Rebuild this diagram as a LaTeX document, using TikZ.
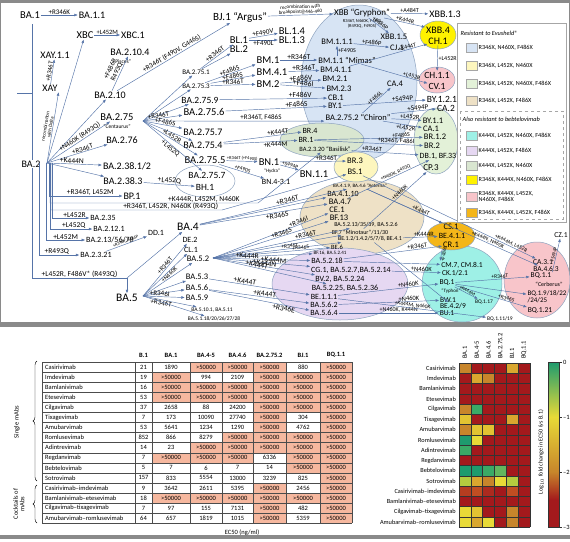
\documentclass[tikz,border=0pt]{standalone}
\usepackage{fontspec}
\setmainfont{Carlito}
\usetikzlibrary{arrows.meta,decorations.pathreplacing}
\tikzset{>={Latex[width=2.8pt,length=3.5pt]}}

\newcommand\fsz[1]{\fontsize{#1}{#1}\selectfont}

\definecolor{linec}{HTML}{5674A8}
\definecolor{grpline}{HTML}{8EA3BF}
\definecolor{framec}{HTML}{8A8A8A}
\definecolor{cBlue}{HTML}{D7E4F4}
\definecolor{cLYel}{HTML}{FDF6BE}
\definecolor{cLGrn}{HTML}{E3F1D8}
\definecolor{cTan}{HTML}{EEE1C6}
\definecolor{cCyan}{HTML}{9EF0E6}
\definecolor{cLav}{HTML}{E6D8F2}
\definecolor{cGGrn}{HTML}{D9E6D0}
\definecolor{cYel}{HTML}{FFF200}
\definecolor{cPink}{HTML}{F8C5CA}
\definecolor{cOrg}{HTML}{F4B619}
\definecolor{salmon}{HTML}{F6B89F}
% heatmap palette
\definecolor{hR}{HTML}{A3191C}
\definecolor{hRd}{HTML}{AC2A1F}
\definecolor{hRO}{HTML}{B63D20}
\definecolor{hRO2}{HTML}{C04E22}
\definecolor{hO}{HTML}{C7852B}
\definecolor{hOY}{HTML}{D9A72F}
\definecolor{hY2}{HTML}{E2C332}
\definecolor{hY}{HTML}{E8DA37}
\definecolor{hYG}{HTML}{B4CC3F}
\definecolor{hLG}{HTML}{62B65E}
\definecolor{hG}{HTML}{3AAA66}
\definecolor{hTG}{HTML}{1E9B6E}

\tikzset{
  lin/.style={font=\fsz{#1},inner sep=0.8pt},
  lin/.default=9,
  mut/.style={font=\fsz{#1},inner sep=0.5pt,sloped,above},
  mut/.default=7,
  arr/.style={draw=linec,line width=0.45pt,->},
  trunk/.style={draw=linec,line width=0.5pt},
  grp/.style={draw=grpline,line width=0.5pt},
  legtxt/.style={font=\fsz{6.2},inner sep=0.5pt,anchor=west,align=left},
  legtit/.style={font=\fsz{6.3}\itshape,inner sep=0.5pt,anchor=west},
  swatch/.style={draw=gray!70,minimum width=11pt,minimum height=9pt,inner sep=0pt},
  tabtxt/.style={font=\fsz{6.5},inner sep=0pt},
  tabhd/.style={font=\fsz{6.5}\bfseries,inner sep=0pt},
  tabline/.style={draw=black!70,line width=0.4pt},
  hmtxt/.style={font=\fsz{6.3},inner sep=0pt,anchor=east},
  hmgrid/.style={draw=black!80,line width=0.4pt},
}

\begin{document}
\begin{tikzpicture}[x=1pt,y=-1pt]
\useasboundingbox (0,0) rectangle (570,541);

% frames
\fill[framec] (0,0) rectangle (570,3);
\fill[framec] (0,322) rectangle (570,327);
\fill[framec] (0,535) rectangle (570,539);
\draw[framec,line width=1pt] (0.5,0) -- (0.5,324);
\draw[framec,line width=1pt] (569.5,0) -- (569.5,324);

% groups
\draw[grp,fill=cBlue] (359,83) ellipse [x radius=58pt,y radius=78pt];
\draw[grp,fill=cLGrn] (436,141) ellipse [x radius=22pt,y radius=33pt];
\draw[grp,fill=cYel] (438,35) ellipse [x radius=18pt,y radius=14pt];
\draw[grp,fill=cPink] (437,80) ellipse [x radius=18pt,y radius=13pt];
\draw[grp,fill=cGGrn] (322,140) ellipse [x radius=42pt,y radius=17pt];
\draw[grp,fill=white] (205,181) ellipse [x radius=30pt,y radius=16pt];
\draw[grp,fill=cTan] (362,217) ellipse [x radius=62pt,y radius=37pt];
\draw[grp,fill=cLYel] (356,167) ellipse [x radius=22pt,y radius=15pt];
\draw[grp,fill=cLav] (340,284) ellipse [x radius=68pt,y radius=36pt];
\draw[grp,fill=cCyan] (462,284) ellipse [x radius=40pt,y radius=38pt];
\draw[grp,fill=cOrg] (451,236) ellipse [x radius=24pt,y radius=14pt];
\draw[grp,fill=cPink] (537,280) ellipse [x radius=33pt,y radius=38pt];

% trunk
\coordinate (top) at (32,24);
\coordinate (root) at (17,93);
\coordinate (c45) at (127,278);
\draw[trunk] (root) -- (root -| top);
\draw[trunk] (top) |- node[mut=7.5,pos=.75]{+L452R, F486V* (R493Q)} (c45);

% BA.1, BA.2 and near
\node[lin=10.5] (ba1) at (30,15) {BA.1};
\node[lin=10] (ba11) at (92,15) {BA.1.1};
\node[lin=10.5] (xbc) at (85,35) {XBC};
\node[lin=10] (xbc1) at (133,35) {XBC.1};
\node[lin=10] (xay11) at (55,55) {XAY.1.1};
\node[lin=10] (xay) at (50,88) {XAY};
\node[lin=10,fill=white] (ba2) at (31,164) {BA.2};
\coordinate (h2) at (47,163);
\node[lin=10] (ba210) at (110,95) {BA.2.10};
\node[lin=10] (ba2104) at (130,52) {BA.2.10.4};
\node[lin=5.5] (pisces) at (122,62) {“Pisces”};
\node[lin=10.5] (ba275) at (117,117) {BA.2.75};
\node[lin=5.5] (centaurus) at (117,127) {“Centaurus”};
\coordinate (h275) at (143,121);
\node[lin=10] (ba276) at (122,140) {BA.2.76};
\node[lin=10] (ba2381) at (127,166) {BA.2.38.1/2};
\node[lin=10] (ba2383) at (123,181) {BA.2.38.3};
\node[lin=10] (bp1) at (132,196) {BP.1};
\node[lin=8] (ba235) at (103,218) {BA.2.35};
\node[lin=8] (ba2121) at (109,229) {BA.2.12.1};
\node[lin=8] (ba213) at (110,240) {BA.2.13/56/78};
\node[lin=8] (ba2321) at (96,255) {BA.2.3.21};
\node[lin=8] (dd1) at (156,233) {DD.1};
\node[lin=11.5] (ba4) at (188,227) {BA.4};
\node[lin=11.5] (ba5) at (127,298) {BA.5};

% BA.2.75 lineages
\node[lin=7] (ba2751) at (196,72) {BA.2.75.1};
\node[lin=7] (ba2753) at (196,86) {BA.2.75.3};
\node[lin=9.5] (ba2759) at (200,100) {BA.2.75.9};
\node[lin=10.5] (ba2756) at (204,112) {BA.2.75.6};
\node[lin=10] (ba2757a) at (203,132) {BA.2.75.7};
\node[lin=10] (ba2754) at (203,145) {BA.2.75.4};
\node[lin=10.5] (ba2755) at (205,160) {BA.2.75.5};
\node[lin=9.5] (ba2757b) at (207,175) {BA.2.75.7};
\node[lin=9.5] (bh1) at (205,187) {BH.1};
\node[lin=11] (bj1) at (240,17) {BJ.1 “Argus”};
\node[lin=10.5] (bl1) at (239,40) {BL.1};
\node[lin=10.5] (bl2) at (239,49) {BL.2};
\node[lin=10.5] (bl14) at (292,31) {BL.1.4};
\node[lin=10.5] (bl13) at (292,40) {BL.1.3};
\node[lin=10.5] (bm1) at (268,60) {BM.1};
\node[lin=10.5] (bm41) at (272,72) {BM.4.1};
\node[lin=10.5] (bm2) at (268,84) {BM.2};

% blue group
\node[lin=9] (xbb) at (362,13) {XBB “Gryphon”};
\node[lin=4.5,align=center] (xbbm) at (362,24) {R346T, N460K, F486S\\(R493Q, F490S)};
\node[lin=8.5] (bm111) at (337,42) {BM.1.1.1};
\node[lin=8.5] (bm11) at (347,60) {BM.1.1 “Mimas”};
\node[lin=8.5] (bm411) at (336,70) {BM.4.1.1};
\node[lin=8.5] (bm21) at (335,79) {BM.2.1};
\node[lin=8.5] (bm23) at (339,89) {BM.2.3};
\node[lin=8.5] (cb1) at (336,98) {CB.1};
\node[lin=8.5] (by1) at (335,106) {BY.1};
\node[lin=8.5] (chiron) at (358,117) {BA.2.75.2 “Chiron”};
\node[lin=8.5] (xbb15) at (394,37) {XBB.1.5};
\node[lin=8.5] (cj1) at (397,48) {CJ.1};
\node[lin=8.5] (ca4) at (395,84) {CA.4};

% right column
\node[lin=10] (xbb13) at (445,14) {XBB.1.3};
\node[lin=10] (xbb4) at (438,30) {XBB.4};
\node[lin=10] (ch1) at (438,41) {CH.1};
\node[lin=9.5] (ch11) at (437,75) {CH.1.1};
\node[lin=9.5] (cv1) at (437,86) {CV.1};
\node[lin=9.5] (by121) at (442,99) {BY.1.2.1};
\node[lin=9.5] (ca2) at (446,108) {CA.2};
\node[lin=8.5] (by11) at (433,121) {BY.1.1};
\node[lin=8.5] (ca1) at (431,129) {CA.1};
\node[lin=8.5] (br12) at (435,137) {BR.1.2};
\node[lin=8.5] (br2) at (432,146) {BR.2};
\node[lin=8] (db1) at (438,156) {DB.1, BF.33};
\node[lin=9] (cp3) at (431,168) {CP.3};

% basilisk, BN, BR.3
\node[lin=8] (br4) at (310,131) {BR.4};
\node[lin=8] (br1) at (306,140) {BR.1};
\node[lin=6.5] (basilisk) at (325,149) {BA.2.3.20 “Basilisk”};
\node[lin=10.5] (bn1) at (269,162) {BN.1};
\node[lin=5] (hydra) at (272,171) {“Hydra”};
\node[lin=10.5] (bn11) at (314,174) {BN.1.1};
\node[lin=8] (bn431) at (276,182) {BN.4-3.1};
\node[lin=8.5] (br3) at (355,161) {BR.3};
\node[lin=8.5] (bs1) at (355,172) {BS.1};

% tan group
\node[lin=5] (aeterna) at (360,186) {BA.4.1.9, BA.4.6 “Aeterna”};
\node[lin=8] (ba4110) at (343,194) {BA.4.1.10};
\node[lin=8.5] (ba47) at (340,202) {BA.4.7};
\node[lin=8.5] (ce1) at (337,210) {CE.1};
\node[lin=8.5] (bf13) at (339,218) {BF.13};
\node[lin=6] (ba5213) at (366,225) {BA.5.2.13/35/39, BA.5.2.6};
\node[lin=6] (bf7) at (360,232) {BF.7 “Minotaur”/11/30};
\node[lin=6] (be12) at (370,239) {BE.1.2/1.4.2/5/7/8, BE.4.1};
\node[lin=6.5] (be6) at (337,247) {BE.6};

% BA.5 lineages
\coordinate (hb5) at (143,296);
\node[lin=8] (de2) at (190,240) {DE.2};
\node[lin=8] (cl1) at (191,250) {CL.1};
\node[lin=8.5] (ba52) at (198,259) {BA.5.2};
\coordinate (hb52) at (213,258);
\node[lin=8.5] (ba53) at (197,277) {BA.5.3};
\node[lin=8.5] (ba56) at (197,288) {BA.5.6};
\node[lin=8.5] (ba59) at (197,298) {BA.5.9};
\node[lin=5.5] (ba5101) at (212,310) {BA.5.10.1, BA.5.11};
\node[lin=5.5] (ba51) at (214,319) {BA.5.1.18/20/26/27/28};

% lavender group
\node[lin=5] (bf16) at (330,253) {BF.16, BA.5.2.41};
\node[lin=8] (ba5218) at (327,261) {BA.5.2.18};
\node[lin=8] (cg1) at (351,270) {CG.1, BA.5.2.7,BA.5.2.14};
\node[lin=8] (bv2) at (340,279) {BV.2, BA.5.2.24};
\node[lin=8] (ba5225) at (345,288) {BA.5.2.25, BA.5.2.36};
\node[lin=8] (be111) at (324,297) {BE.1.1.1};
\node[lin=8] (ba562) at (324,305) {BA.5.6.2};
\node[lin=8] (ba564) at (324,313) {BA.5.6.4};

% orange, cyan, pink
\node[lin=8.5] (cs1) at (451,227) {CS.1};
\node[lin=8] (be411) at (452,236) {BE.4.1.1};
\node[lin=8.5] (cr1) at (451,245) {CR.1};
\node[lin=7.5] (cm7) at (462,265) {CM.7, CM.8.1};
\node[lin=7.5] (ck1) at (455,273) {CK.1/2.1};
\node[lin=7.5] (bq1) at (447,283) {BQ.1};
\node[lin=5] (typhon) at (451,291) {“Typhon”};
\node[lin=7.5] (bw1) at (448,300) {BW.1};
\node[lin=7.5] (be42) at (453,306) {BE.4.2/9};
\node[lin=7.5] (bu1) at (447,313) {BU.1};
\node[lin=5.5] (bq117) at (484,302) {BQ.1.17};
\node[lin=7.5] (ca31) at (543,262) {CA.3.1};
\node[lin=7.5] (ba463) at (546,269) {BA.4.6.3};
\node[lin=7.5] (bq11) at (541,276) {BQ.1.1};
\node[lin=6] (cerberus) at (549,284) {“Cerberus”};
\node[lin=7,align=left] (bq19) at (547,297) {BQ.1.9/18/22\\/24/25};
\node[lin=7.5] (bq121) at (540,311) {BQ.1.21};
\node[lin=7.5] (cz1) at (561,235) {CZ.1};
\node[lin=5.5] (bq111) at (500,319) {BQ.1.11/19};

% ---- connectors
\draw[arr] (ba1) -- node[mut=7]{+R346K} (ba11);
\draw[arr] (xbc) -- node[mut=6.5]{+L452M} (xbc1);
\draw[arr] (xay) -- node[mut=6.5]{+R346T} (xay11);
\draw[arr] (h2) -- (xbc);
\draw[arr] (h2) -- node[mut=5,align=center]{recombination\\with Delta} (xay.south east);
\draw[arr] (h2) -- (ba210);
\draw[arr] (h2) -- node[mut=7,pos=.55]{+N460K (R493Q)} (ba275);
\draw[arr] (h2) -- node[mut=7,pos=.6]{+R346T} (ba276);
\draw[arr] (h2) -- node[mut=7.5,pos=.45]{+K444N} (ba2381);
\draw[arr] (h2) -- (ba2383);
\coordinate (k1) at (258,203);
\coordinate (k2) at (222,210);
\draw[arr] ([xshift=2pt]h2) |- node[mut=7.5,pos=.78]{+R346T, L452M} (bp1);
\draw[arr] ([xshift=3pt]h2) |- node[mut=7.5,pos=.87]{+K444R, L452M, N460K} (k1) -- (basilisk);
\draw[arr] ([xshift=4pt]h2) |- node[mut=7.5,pos=.85]{+R346T, L452R, N460K (R493Q)} (k2) -- (bs1);
\draw[arr] ([xshift=5pt]h2) |- node[mut=7.5,pos=.8]{+L452R} (ba235);
\draw[arr] ([xshift=3pt]h2) |- node[mut=7.5,pos=.78]{+L452Q} (ba2121);
\draw[arr] ([xshift=-1pt]h2) |- node[mut=7.5,pos=.75]{+L452M} (ba213);
\draw[arr] ([xshift=-8pt]h2) |- node[mut=7.5,pos=.72]{+R493Q} (ba2321);
\draw[arr] (ba2321) -- node[mut=4.5]{+R346T, F486P} (dd1);

\draw[arr] (ba210) -- node[mut=7,align=center]{+F486P\\R493Q} (ba2104);
\draw[arr] (ba210) -- node[mut=7]{+R346T (F490V, G446S)} (bj1);
\draw[arr] (bj1) -- node[mut=5,align=center]{recombination with\\breakpoint@446-460} (xbb);

\draw[arr] (h275) -- (ba2751);
\draw[arr] (h275) -- (ba2753);
\draw[arr] (h275) -- (ba2759);
\draw[arr] (h275) -- node[mut=7,pos=.4]{+R346T} (ba2756);
\draw[arr] (h275) -- node[mut=7,pos=.55]{+F486S} (ba2757a);
\draw[arr] (h275) -- (ba2754);
\draw[arr] (h275) -- node[mut=7,pos=.5]{+L452R} (ba2755);
\draw[arr] (h275) -- node[mut=7,pos=.5,below]{+L452Q} (ba2757b);
\draw[arr] (h275) -- node[mut=7,pos=.65]{+R346T, F486S} (chiron.south west);
\draw[arr] (ba2383) -- node[mut=7.5]{+L452Q} (bh1);

\draw[arr] (ba2751) -- node[mut=7]{+R346T} (bl1);
\draw[arr] (ba2751) -- (bl2);
\draw[arr] (bl1) -- node[mut=7]{+F490V} (bl14);
\draw[arr] (bl1) -- node[mut=7,below]{+F490L} (bl13);
\draw[arr] (ba2753) -- node[mut=7]{+F486S} (bm1);
\draw[arr] (ba2753) -- node[mut=7]{+F486S} (bm41);
\draw[arr] (ba2753) -- node[mut=7]{+R346T} (bm2);
\draw[arr] (bm1) -- node[mut=7.5]{+R346T} (bm11);
\draw[arr] ([xshift=-10pt]bm11.north) -- node[font=\fsz{6},right,inner sep=1pt]{+F490S} (bm111);
\draw[arr] (bm41) -- node[mut=7.5]{+R346T} (bm411);
\draw[arr] (bm2) -- node[mut=7.5]{+F486V} (bm21);
\draw[arr] (bm2) -- node[mut=7.5]{+F486I} (bm23);
\draw[arr] (ba2759) -- node[mut=7.5,pos=.75]{+F486V} (cb1);
\draw[arr] (ba2756) -- node[mut=7.5,pos=.7]{+F486S} (by1);

\draw[arr] (bm111) -- node[mut=6.5]{+F486P} (cj1);
\draw[arr] (xbb) -- node[mut=6]{+F486P} (xbb15);
\draw[arr] (xbb) -- node[mut=6]{+A484T} (xbb13);
\draw[arr] (xbb) -- node[mut=6]{+K444R} (xbb4);
\draw[arr] (bm411) -- node[mut=6,pos=.75]{+K444T} (ch1);
\draw[arr] (ch1) -- node[font=\fsz{6},right,inner sep=1pt]{+L452R} (ch11);
\draw[arr] (bm11) -- node[mut=6,pos=.75]{+L452R} (cv1);
\draw[arr] (by1) -- node[mut=7,pos=.72]{+S494P} (by121);
\draw[arr] (chiron) -- node[mut=7,pos=.6]{+S494P} (ca2);
\draw[arr] (chiron) -- node[mut=6]{+F486L} (ca4);
\draw[arr] (chiron) -- node[mut=6.5,pos=.6]{+L452R} (by11);
\draw[arr] (chiron) -- node[mut=6.5,pos=.6,below]{+L452R} (ca1);
\draw[arr] (br1) -- node[mut=6,pos=.8]{+F486S} (br12);
\draw[arr] (br1) -- node[mut=6.5,pos=.75]{+R346T, F486I} (br2);
\draw[arr] (basilisk) -- node[mut=6.5,pos=.3]{+R346T} (db1);

\draw[arr] (ba2754) -- node[mut=7,pos=.7]{+K444T} (br4);
\draw[arr] (ba2754) -- node[mut=7,pos=.7,below]{+K444M} (br1);
\draw[arr] (ba2755) -- node[mut=4.5,pos=.5]{+R346T (+F490S)} (bn1);
\draw[arr] (ba2755) -- node[mut=5.5]{+F490S} (bn431);
\draw[arr] (bn1) -- node[mut=5.5]{+S494P} (bn11);
\draw[arr] (bn1) -- node[mut=7,pos=.7]{+R346T} (br3);

\draw[arr] (c45) -- (ba4);
\draw[arr] (c45) -- (ba5);
\draw[arr] (ba4) -- node[mut=7.5,pos=.6]{+R346T} (aeterna);
\draw[arr] (ba4) -- node[mut=7.5,pos=.6,below]{+R346S} (ba47);
\draw[arr] (ba4) -- (ba4110);

\draw[arr] (hb5) -- node[mut=6.5,pos=.55]{+R346T} (de2);
\draw[arr] (hb5) -- node[mut=6,pos=.55,below]{+N460K} (cl1);
\draw[arr] (hb5) -- (ba52);
\draw[arr] (hb5) -- (ba53);
\draw[arr] (hb5) -- (ba56);
\draw[arr] (hb5) -- node[mut=7,pos=.4]{+R346I} (ba59);
\draw[arr] (hb5) -- node[mut=7,pos=.35,below]{+R346T} (ba5101);
\draw[arr] (hb5) -- (ba51);

\draw[arr] (hb52) -- node[mut=7,pos=.75]{+R346I} (ce1);
\draw[arr] (hb52) -- node[mut=7,pos=.6]{+R346S} (bf13);
\draw[arr] (hb52) -- node[mut=7,pos=.68]{+R346T} (ba5213);
\draw[arr] (hb52) -- (bf7);
\draw[arr] (hb52) -- node[mut=5.5,pos=.6]{+R346T} (be12);
\draw[arr] (hb52) -- node[mut=5.5,pos=.75]{+R346S} (be6);
\draw[arr] (hb52) -- (bf16);
\draw[arr] (hb52) -- node[mut=7.5,pos=.35]{+K444R} (ba5218);
\draw[arr] (hb52) -- node[mut=7.5,pos=.62]{+K444M} (cg1);
\draw[arr] (hb52) -- node[mut=7.5,pos=.5]{+K444N} (bv2);
\draw[arr] (hb52) -- node[mut=7.5,pos=.38]{+K444T} (ba5225);
\draw[arr] (ba53) -- node[mut=7.5,pos=.35]{+K444T} (be111);
\draw[arr] (ba56) -- node[mut=7.5,pos=.55]{+K444T} (ba562);
\draw[arr] (ba56) -- node[mut=7.5,pos=.75,below]{+R346E} (ba564);

\draw[arr] (ba5218) -- (cm7);
\draw[arr] (cg1) -- node[mut=6.5,pos=.6]{+N460K} (ck1);
\draw[arr] (be111) -- node[mut=6.5,pos=.7]{+N460K} (bq1);
\draw[arr] (ba562) -- node[mut=6.5,pos=.7]{+N460K} (bw1);
\draw[arr] (ba564) -- node[mut=6,pos=.6]{+N460K, K444N} (bu1);
\draw[arr] (be12) -- (be42);
\draw[arr] (aeterna) -- node[mut=6,pos=.7]{+K444T} (cs1);
\draw[arr] (be12) -- node[mut=6.5,pos=.6]{+K444R} (be411);
\draw[arr] (ba5218) -- node[mut=6.5,pos=.75]{+R346T} (cr1);
\draw[arr] (cr1.south west) -- node[mut=5,pos=.4,below]{+F486S} (cm7.north west);
\draw[arr] (bs1) -- node[mut=5.5,pos=.85]{+K444M, L452R} (ca31);
\draw[arr] (aeterna) -- node[mut=5.5,pos=.7]{+K444N, N460K} (ba463);
\draw[arr] (bq1) -- node[mut=5.5,pos=.6]{+R346T} (bq11);
\draw[arr] (bq1) -- (bq19);
\draw[arr] (bq1) -- node[mut=5.5,pos=.7]{+R346S} (bq121);
\draw[arr] (bq1) -- node[mut=5,pos=.5]{+K444M} (bq117);
\draw[arr] (be111) -- node[mut=5.5,pos=.5]{+K444M, N460K} (bq111);
\draw[arr] (bq11.north east) -- node[mut=5,pos=.5]{+S494P} (cz1);
\draw[arr] (ba47) -- node[mut=5,pos=.6]{+N460K, R493Q} (db1);
\draw[arr] (bf7) -- node[mut=6,pos=.6]{+N460K} (cp3);

% legend
\draw[draw=gray!70,fill=white] (457,23) rectangle (566,222);
\node[legtit] (lgt1) at (460,33) {Resistant to Evusheld®};
\draw[draw=gray!70,dashed] (460,111) rectangle (563,219);
\node[legtit] (lgt2) at (462,119) {Also resistant to bebtelovimab};
\foreach \yy/\cc/\lbl [count=\i] in {48/cBlue/{R346X, N460X, F486X},
    66/cLYel/{R346X, L452X, N460X}, 84/cLGrn/{R346X, L452X, N460X, F486X},
    101/cTan/{R346X, L452X, F486X}, 136/cCyan/{K444X, L452X, N460X, F486X},
    151/cLav/{K444X, L452X, F486X}, 166/cGGrn/{K444X, L452X, N460X},
    180/cYel/{R346X, K444X, N460X, F486X},
    197/cPink/{R346X, K444X, L452X,\\N460X, F486X},
    213/cOrg/{R346X, K444X, L452X, F486X}}{
  \node[swatch,fill=\cc] (sw\i) at (471.5,\yy) {};
  \node[legtxt] (lg\i) at (478,\yy) {\lbl};
}

% ---- table
\foreach \xl/\xr/\rows in {152/190/{2,3,4,10,14}, 190/222/{1,3,4,9,10,14},
    222/253/{1,3,4,8,9,10,14}, 253/286/{1,2,3,4,5,6,7,8,9,13,14,15,16},
    286/320/{2,3,4,5,8,9,10,11,14}, 320/352/{1,2,...,16}}
  \foreach \r in \rows
    \fill[salmon] (\xl,{362+(\r-1)*10.08}) rectangle (\xr,{362+\r*10.08});
\foreach \i in {0,...,16}
  \draw[tabline] (42,{362+\i*10.08}) -- (352,{362+\i*10.08});
\foreach \xx in {42,135,152,190,222,253,286,320,352}
  \draw[tabline] (\xx,362) -- (\xx,523.28);
\foreach \xx/\hd [count=\i] in {143.5/B.1,171/BA.1,206/BA.4-5,237.5/BA.4.6,269.5/BA.2.75.2,303/BJ.1,336/BQ.1.1}
  \node[tabhd] (th\i) at (\xx,355) {\hd};
\foreach \nm/\va/\vb/\vc/\vd/\ve/\vf/\vg [count=\i] in {
    Casirivimab/21/1890/>50000/>50000/>50000/880/>50000,
    Imdevimab/19/>50000/994/2109/>50000/>50000/>50000,
    Bamlanivimab/16/>50000/>50000/>50000/>50000/>50000/>50000,
    Etesevimab/53/>50000/>50000/>50000/>50000/>50000/>50000,
    Cilgavimab/37/2658/88/24200/>50000/>50000/>50000,
    Tixagevimab/7/173/10090/27740/>50000/304/>50000,
    Amubarvimab/53/5641/1234/1290/>50000/4762/>50000,
    Romlusevimab/852/866/8279/>50000/>50000/>50000/>50000,
    Adintrevimab/14/23/>50000/>50000/>50000/>50000/>50000,
    Regdanvimab/7/>50000/>50000/>50000/6336/>50000/>50000,
    Bebtelovimab/5/7/6/7/14/>50000/>50000,
    Sotrovimab/157/833/5554/13000/3239/825/>50000,
    Casirivimab–imdevimab/9/3642/2611/5395/>50000/2456/>50000,
    Bamlanivimab–etesevimab/18/>50000/>50000/>50000/>50000/>50000/>50000,
    Cilgavimab–tixagevimab/7/97/155/7131/>50000/482/>50000,
    Amubarvimab–romlusevimab/64/657/1819/1015/>50000/5359/>50000}{
  \pgfmathsetmacro\yy{362+(\i-0.5)*10.08}
  \node[tabtxt,anchor=west] (tn\i) at (45,\yy) {\nm};
  \node[tabtxt] (ta\i) at (143.5,\yy) {\va};
  \node[tabtxt] (tb\i) at (171,\yy) {\vb};
  \node[tabtxt] (tc\i) at (206,\yy) {\vc};
  \node[tabtxt] (td\i) at (237.5,\yy) {\vd};
  \node[tabtxt] (te\i) at (269.5,\yy) {\ve};
  \node[tabtxt] (tf\i) at (303,\yy) {\vf};
  \node[tabtxt] (tg\i) at (336,\yy) {\vg};
}
\draw[decorate,decoration={brace,amplitude=4pt},line width=0.4pt] (37,481) -- (37,361);
\draw[decorate,decoration={brace,amplitude=4pt},line width=0.4pt] (37,523) -- (37,485);
\node[tabtxt,rotate=90] (single) at (17,422) {Single mAbs};
\node[tabtxt,rotate=90,align=center] (cocktail) at (19,504) {Cocktails of\\mAbs};
\node[tabtxt] (ec50) at (242,533) {EC50 (ng/ml)};

% ---- heatmap
\foreach \nm/\cl [count=\i] in {
    Casirivimab/{hO,hR,hR,hR,hOY,hR},
    Imdevimab/{hR,hOY,hO,hR,hR,hR},
    Bamlanivimab/{hR,hR,hR,hR,hR,hR},
    Etesevimab/{hR,hR,hR,hR,hR,hR},
    Cilgavimab/{hO,hG,hR,hR,hR,hR},
    Tixagevimab/{hY2,hR,hR,hR,hOY,hR},
    Amubarvimab/{hO,hY2,hY2,hR,hR,hR},
    Romlusevimab/{hTG,hY,hR,hR,hR,hR},
    Adintrevimab/{hG,hR,hR,hR,hR,hR},
    Regdanvimab/{hR,hR,hR,hR,hR,hR},
    Bebtelovimab/{hTG,hTG,hG,hLG,hR,hR},
    Sotrovimab/{hYG,hOY,hO,hY,hYG,hR},
    Casirivimab–imdevimab/{hRO,hRO2,hRd,hR,hRO2,hR},
    Bamlanivimab–etesevimab/{hR,hR,hR,hR,hR,hR},
    Cilgavimab–tixagevimab/{hY,hY2,hR,hR,hO,hR},
    Amubarvimab–romlusevimab/{hY,hOY,hY,hR,hO,hR}}{
  \node[hmtxt] (hm\i) at (456,{363+(\i-0.5)*10.25}) {\nm};
  \foreach \cc [count=\k] in \cl
    \fill[\cc] ({459+(\k-1)*11.8},{363+(\i-1)*10.25}) rectangle ++(11.8,10.25);
}
\foreach \i in {0,...,16}
  \draw[hmgrid] (459,{363+\i*10.25}) -- (529.8,{363+\i*10.25});
\foreach \k in {0,...,6}
  \draw[hmgrid] ({459+\k*11.8},363) -- ({459+\k*11.8},527);
\foreach \hd [count=\k] in {BA.1,BA.4-5,BA.4.6,BA.2.75.2,BJ.1,BQ.1.1}
  \node[tabtxt,rotate=90,anchor=west] (hh\k) at ({459+(\k-0.5)*11.8},359) {\hd};

% colour bar
\shade[top color=hTG,bottom color=hY] (548,362) rectangle (559,417);
\shade[top color=hY,bottom color=hO] (548,417) rectangle (559,472);
\shade[top color=hO,bottom color=hR] (548,472) rectangle (559,500);
\fill[hR] (548,500) rectangle (559,527);
\draw[hmgrid] (548,362) rectangle (559,527);
\foreach \yy/\tk [count=\i] in {362/0,417/–1,472/–2,527/–3}{
  \draw[hmgrid] (559,\yy) -- (562,\yy);
  \node[tabtxt,anchor=west] (tk\i) at (563,\yy) {\tk};
}
\node[font=\fsz{6},rotate=90,inner sep=0pt] (cbl) at (541,452) {Log$_{10}$ fold change in EC50 (vs B.1)};

\end{tikzpicture}
\end{document}
